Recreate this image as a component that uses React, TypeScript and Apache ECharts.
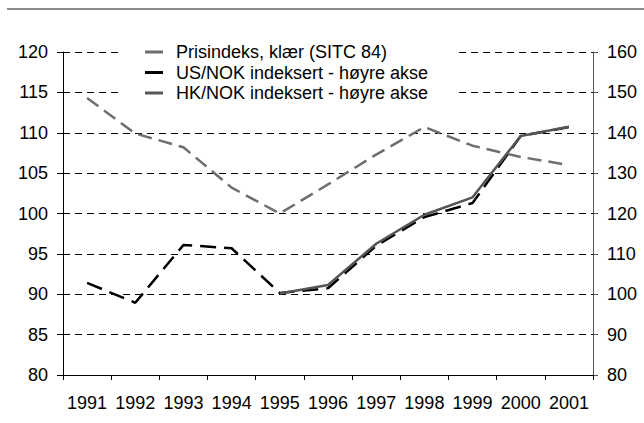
import React, { useEffect, useRef } from "react";
import * as echarts from "echarts";

const years = ["1991", "1992", "1993", "1994", "1995", "1996", "1997", "1998", "1999", "2000", "2001"];
const prisindeks = [114.3, 109.9, 108.2, 103.2, 100.0, 103.6, 107.3, 110.7, 108.4, 107.0, 106.0];
const usNok = [102.8, 97.9, 112.2, 111.4, 100.3, 101.5, 112.0, 119.1, 122.6, 139.2, 141.4];
const hkNok = [null, null, null, null, 100.2, 102.3, 112.5, 119.7, 124.0, 139.2, 141.5];
const seriesNames = [
  "Prisindeks, klær (SITC 84)",
  "US/NOK indeksert - høyre akse",
  "HK/NOK indeksert - høyre akse",
];

const FONT = "Liberation Sans, Arial, sans-serif";
const FS = 18;

export default function App() {
  const ref = useRef<HTMLDivElement>(null);
  useEffect(() => {
    if (!ref.current) return;
    const chart = echarts.init(ref.current, null, { renderer: "svg" });
    chart.setOption({
      animation: false,
      backgroundColor: "#fff",
      textStyle: { fontFamily: FONT },
      graphic: [
        {
          type: "line",
          shape: { x1: 7, y1: 9, x2: 644, y2: 9 },
          style: { stroke: "#8a8a8a", lineWidth: 2 },
        },
      ],
      grid: { left: 63, right: 51, top: 52, bottom: 48, containLabel: false },
      legend: {
        orient: "vertical",
        left: 118,
        top: 38,
        padding: [5, 28, 5, 27],
        backgroundColor: "#fff",
        itemGap: 2.5,
        itemWidth: 18,
        itemHeight: 3,
        icon: "rect",
        textStyle: { fontSize: FS, lineHeight: 18, color: "#000", fontFamily: FONT, padding: [0, 0, 0, 8] },
        data: seriesNames,
      },
      xAxis: {
        type: "category",
        data: years,
        boundaryGap: true,
        axisLine: { lineStyle: { color: "#000", width: 1 } },
        axisTick: { show: true, length: 5, interval: 0, lineStyle: { color: "#000" } },
        axisLabel: { fontSize: FS, color: "#000", margin: 19, interval: 0, fontFamily: FONT },
        splitLine: { show: false },
      },
      yAxis: [
        {
          type: "value",
          min: 80,
          max: 120,
          interval: 5,
          position: "left",
          axisLine: { show: true, lineStyle: { color: "#000", width: 1 } },
          axisTick: { show: true, length: 6, lineStyle: { color: "#000" } },
          axisLabel: { fontSize: FS, color: "#000", margin: 15, fontFamily: FONT },
          splitLine: { show: true, lineStyle: { color: "#000", width: 1, type: [7, 5] } },
        },
        {
          type: "value",
          min: 80,
          max: 160,
          interval: 10,
          position: "right",
          axisLine: { show: true, lineStyle: { color: "#555", width: 1 } },
          axisTick: { show: true, length: 5, lineStyle: { color: "#555" } },
          axisLabel: { fontSize: FS, color: "#000", margin: 14, fontFamily: FONT },
          splitLine: { show: false },
        },
      ],
      series: [
        {
          name: seriesNames[0],
          type: "line",
          yAxisIndex: 0,
          data: prisindeks,
          symbol: "none",
          itemStyle: { color: "#6e6e6e" },
          lineStyle: { color: "#6e6e6e", width: 2.5, type: [14, 7] },
        },
        {
          name: seriesNames[1],
          type: "line",
          yAxisIndex: 1,
          data: usNok,
          symbol: "none",
          itemStyle: { color: "#000" },
          lineStyle: { color: "#000", width: 2.5, type: [16, 8] },
        },
        {
          name: seriesNames[2],
          type: "line",
          yAxisIndex: 1,
          data: hkNok,
          symbol: "none",
          connectNulls: false,
          itemStyle: { color: "#555" },
          lineStyle: { color: "#555", width: 2.5, type: "solid" },
        },
      ],
    });
    return () => chart.dispose();
  }, []);
  return <div ref={ref} style={{ width: 644, height: 423, position: "absolute", left: 0, top: 0 }} />;
}
